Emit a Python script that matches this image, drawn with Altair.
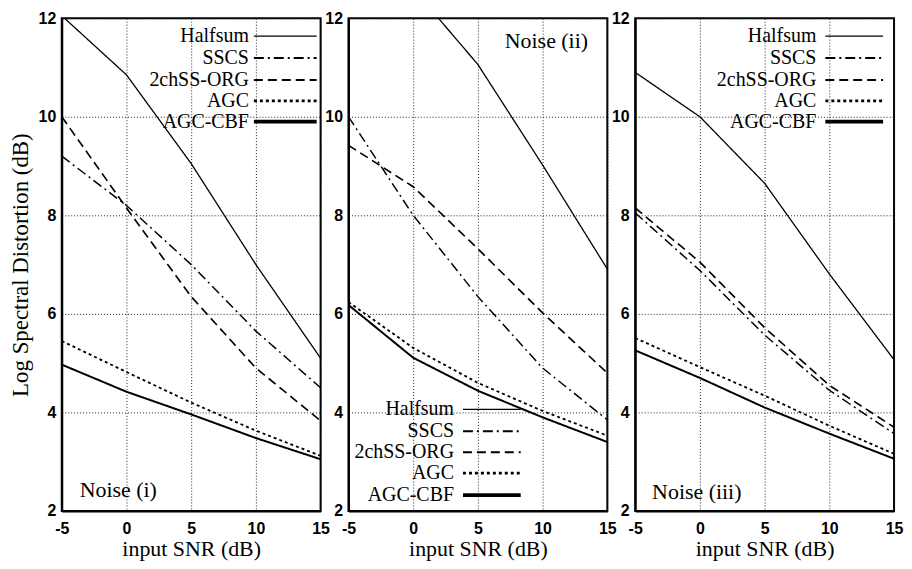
import altair as alt
import pandas as pd

snr = [-5, 0, 5, 10, 15]
series = ["Halfsum", "SSCS", "2chSS-ORG", "AGC", "AGC-CBF"]
panel_labels = ["Noise (i)", "Noise (ii)", "Noise (iii)"]
x_ticks = [-5, 0, 5, 10, 15]
y_ticks = [2, 4, 6, 8, 10, 12]

# Noise (i)
halfsum_i = [12.05, 10.85, 9.05, 7.0, 5.1]
sscs_i = [9.2, 8.2, 7.0, 5.65, 4.5]
org_i = [10.0, 8.15, 6.35, 4.9, 3.83]
agc_i = [5.45, 4.82, 4.2, 3.63, 3.12]
cbf_i = [4.97, 4.42, 3.96, 3.48, 3.05]

# Noise (ii)
halfsum_ii = [13.6, 12.6, 11.06, 9.02, 6.91]
sscs_ii = [10.0, 8.0, 6.35, 4.9, 3.85]
org_ii = [9.42, 8.58, 7.32, 6.02, 4.8]
agc_ii = [6.24, 5.31, 4.6, 4.03, 3.53]
cbf_ii = [6.18, 5.11, 4.44, 3.9, 3.4]

# Noise (iii)
halfsum_iii = [10.9, 10.0, 8.65, 6.81, 5.07]
sscs_iii = [8.05, 6.88, 5.57, 4.45, 3.57]
org_iii = [8.15, 7.05, 5.72, 4.55, 3.7]
agc_iii = [5.51, 4.92, 4.34, 3.73, 3.16]
cbf_iii = [5.26, 4.7, 4.1, 3.57, 3.06]

panel_data = [
    [halfsum_i, sscs_i, org_i, agc_i, cbf_i],
    [halfsum_ii, sscs_ii, org_ii, agc_ii, cbf_ii],
    [halfsum_iii, sscs_iii, org_iii, agc_iii, cbf_iii],
]

# styles
dashes = [[1, 0], [10, 4, 2, 4], [9, 5], [3, 3], [1, 0]]
widths = [1.3, 2.0, 2.0, 2.8, 3.8]

W, H = 260, 495
SERIF = "Liberation Serif"
SANS = "Liberation Sans"

# legend / label layout per panel (plot-area pixels)
legend_layout = [
    dict(text_x=188, line_x=(193, 256), rows=[18, 40, 62, 83, 104]),
    dict(text_x=106, line_x=(115, 173), rows=[393, 415, 436, 457, 479]),
    dict(text_x=182, line_x=(191, 249), rows=[18, 40, 62, 83, 104]),
]
label_layout = [(18, 474), (157, 23), (17, 476)]

one = pd.DataFrame({"a": [0]})


def make_panel(i):
    rows = []
    for s, vals in zip(series, panel_data[i]):
        for x, v in zip(snr, vals):
            rows.append({"snr": x, "lsd": v, "series": s})
    df = pd.DataFrame(rows)

    y_axis = alt.Axis(
        values=y_ticks,
        title="Log Spectral Distortion (dB)" if i == 0 else None,
        labelPadding=6,
        titlePadding=6,
        titleFontSize=23,
        labelFlush=False,
        labelOverlap=False,
        labelExpr="datum.value",
    )
    x_axis = alt.Axis(
        values=x_ticks,
        title="input SNR (dB)",
        labelPadding=10,
        titlePadding=2,
        titleFontSize=22,
        labelFlush=False,
        labelOverlap=False,
        labelExpr="datum.value",
    )

    lines = alt.Chart(df).mark_line(color="black", clip=True).encode(
        x=alt.X("snr:Q", scale=alt.Scale(domain=[-5, 15], nice=False, zero=False), axis=x_axis),
        y=alt.Y("lsd:Q", scale=alt.Scale(domain=[2, 12], nice=False, zero=False), axis=y_axis),
        strokeDash=alt.StrokeDash("series:N", scale=alt.Scale(domain=series, range=dashes), legend=None),
        strokeWidth=alt.StrokeWidth("series:N", scale=alt.Scale(domain=series, range=widths), legend=None),
        order="snr:Q",
    )

    layers = [lines]
    lay = legend_layout[i]
    for k, s in enumerate(series):
        yy = lay["rows"][k]
        layers.append(
            alt.Chart(one).mark_text(
                align="right", baseline="middle", font=SERIF, fontSize=20, color="black"
            ).encode(x=alt.value(lay["text_x"]), y=alt.value(yy), text=alt.value(s))
        )
        layers.append(
            alt.Chart(one).mark_rule(
                color="black", strokeDash=dashes[k], strokeWidth=widths[k]
            ).encode(x=alt.value(lay["line_x"][0]), x2=alt.value(lay["line_x"][1]), y=alt.value(yy))
        )
    lx, ly = label_layout[i]
    layers.append(
        alt.Chart(one).mark_text(
            align="left", baseline="middle", font=SERIF, fontSize=22, color="black"
        ).encode(x=alt.value(lx), y=alt.value(ly), text=alt.value(panel_labels[i]))
    )
    return alt.layer(*layers).properties(width=W, height=H)


chart = alt.hconcat(
    make_panel(0), make_panel(1), make_panel(2), spacing=28, bounds="flush"
).configure_view(
    stroke="black", strokeWidth=2
).configure_axis(
    grid=True,
    gridColor="#222222",
    gridDash=[1, 2],
    gridWidth=1,
    domainColor="black",
    domainWidth=2,
    ticks=False,
    labelFont=SANS,
    labelFontSize=16,
    labelFontWeight="bold",
    labelColor="black",
    titleFont=SERIF,
    titleFontSize=21,
    titleFontWeight="normal",
    titleColor="black",
).properties(
    padding={"left": 0, "top": 0, "right": 0, "bottom": 0},
    background="white",
)

chart.save("out.html", embed_options={"renderer": "svg", "actions": False})
